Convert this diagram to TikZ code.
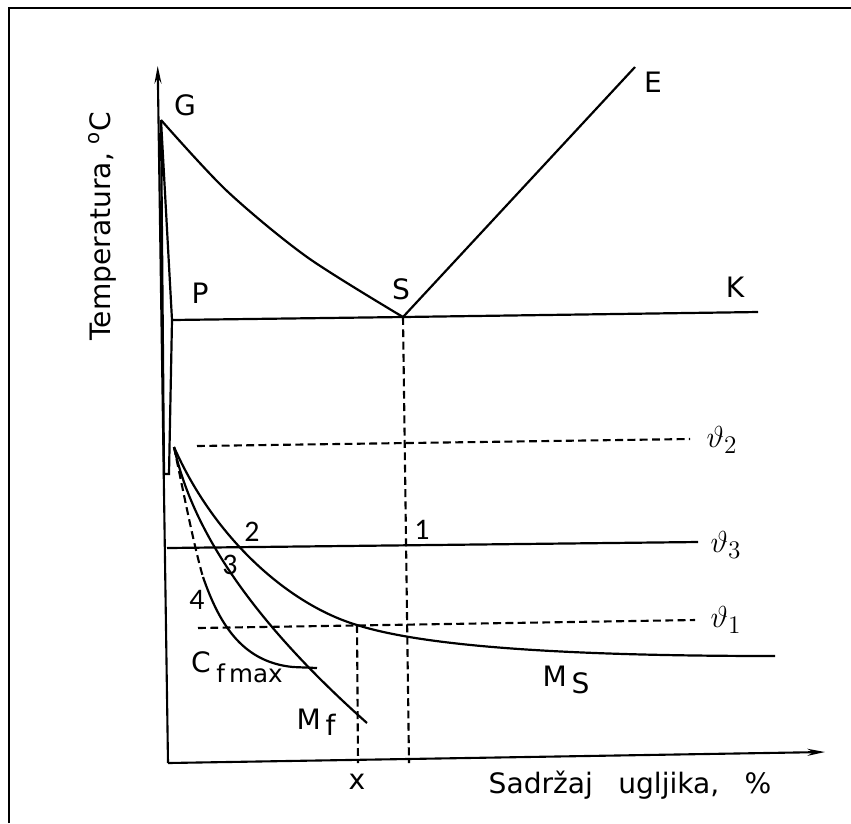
\documentclass[tikz,border=0pt]{standalone}
\usepackage{amsmath}
\usepackage{fontspec}
\setmainfont{DejaVu Sans}
\newfontfamily\numfont{Carlito}
\usetikzlibrary{arrows.meta}

\begin{document}
\begin{tikzpicture}[
  x=0.02cm, y=-0.02cm,
  lbl/.style={font=\fontsize{16}{18}\selectfont, inner sep=0pt},
  num/.style={font=\numfont\fontsize{17}{19}\selectfont, inner sep=0pt},
  tlbl/.style={font=\fontsize{19}{21}\selectfont, inner sep=0pt},
  line/.style={line width=1.25pt},
  dline/.style={line width=1.2pt, dash pattern=on 4.5pt off 2.5pt},
  axis/.style={line width=1.2pt, -{Stealth[length=10pt, width=4pt]}}
]
  \useasboundingbox (0,0) rectangle (851,823);
  \draw[line width=1.3pt] (9,823) -- (9,8) -- (851,8);

  % axes
  \coordinate (O) at (168,763);
  \coordinate (ytop) at (157.7,66);
  \coordinate (xend) at (825,752);
  \draw[axis] (O) -- (ytop);
  \draw[axis] (O) -- (xend);

  % characteristic points
  \coordinate (G) at (161,120);
  \coordinate (P) at (172,320);
  \coordinate (Pb) at (169,474);
  \coordinate (Pl) at (164,474);
  \coordinate (S) at (403,317);
  \coordinate (K) at (758,312);
  \coordinate (E) at (635,67);
  \coordinate (S0) at (409,763);
  \coordinate (X1) at (357,625);
  \coordinate (X0) at (358,763);

  \draw[line] (G) -- (P) -- (Pb) -- (Pl) -- cycle;
  \draw[line] (P) -- (S) -- (K);
  \draw[line] (S) -- (E);
  \draw[line] plot[smooth, tension=0.5] coordinates {(G) (227,191) (307,257) (S)};

  % temperature levels
  \coordinate (t2a) at (197,446);
  \coordinate (t2b) at (690,439);
  \coordinate (t3a) at (167,548);
  \coordinate (t3b) at (698,542);
  \coordinate (t1a) at (198,628);
  \coordinate (t1b) at (695,620);
  \draw[dline] (t2a) -- (t2b);
  \draw[line] (t3a) -- (t3b);
  \draw[dline] (t1a) -- (t1b);
  \draw[dline] (S) -- (S0);
  \draw[dline] (X1) -- (X0);

  % Ms, Mf, Cfmax
  \coordinate (C0) at (174,447);
  \coordinate (Ms) at (775,656);
  \coordinate (Mf) at (367,723);
  \coordinate (C4) at (203,577);
  \coordinate (Cf) at (293,667);
  \coordinate (Cfe) at (317,668);
  \draw[line] (C0) .. controls (215,540) and (290,605) .. (X1)
    .. controls (420,645) and (550,656) .. (Ms);
  \draw[line] (C0) .. controls (190,520) and (240,610) .. (Mf);
  \draw[dline] (C0) .. controls (185,500) and (195,550) .. (C4);
  \draw[line] (C4) .. controls (218,620) and (240,662) .. (Cf) -- (Cfe);

  % labels
  \node[lbl] (lG) at (185,105) {G};
  \node[lbl] (lP) at (200,293) {P};
  \node[lbl] (lS) at (401,289) {S};
  \node[lbl] (lK) at (735,287) {K};
  \node[lbl] (lE) at (653,82) {E};
  \node[num] (n1) at (422,530) {1};
  \node[num] (n2) at (252,532) {2};
  \node[num] (n3) at (230,565) {3};
  \node[num] (n4) at (197,600) {4};
  \node[tlbl] (th2) at (722,440) {$\vartheta_2$};
  \node[tlbl] (th3) at (726,545) {$\vartheta_3$};
  \node[tlbl] (th1) at (726,620) {$\vartheta_1$};
  \node[lbl] (lMs) at (566,680) {M\,\raisebox{-0.5ex}{S}};
  \node[lbl] (lMf) at (316,722) {M\,\raisebox{-0.4ex}{f}};
  \node[lbl] (lC) at (201,662) {C};
  \node[lbl, anchor=west] (lCs) at (216,673) {\fontsize{14}{16}\selectfont f\,max};
  \node[lbl] (lx) at (357,782) {x};
  \node[lbl] (xlab) at (630,785) {Sadržaj\hspace{0.9em}ugljika,\hspace{0.9em}\%};
  \node[lbl, rotate=90] (ylab) at (102,226) {Temperatura, \textsuperscript{o}C};
\end{tikzpicture}
\end{document}
